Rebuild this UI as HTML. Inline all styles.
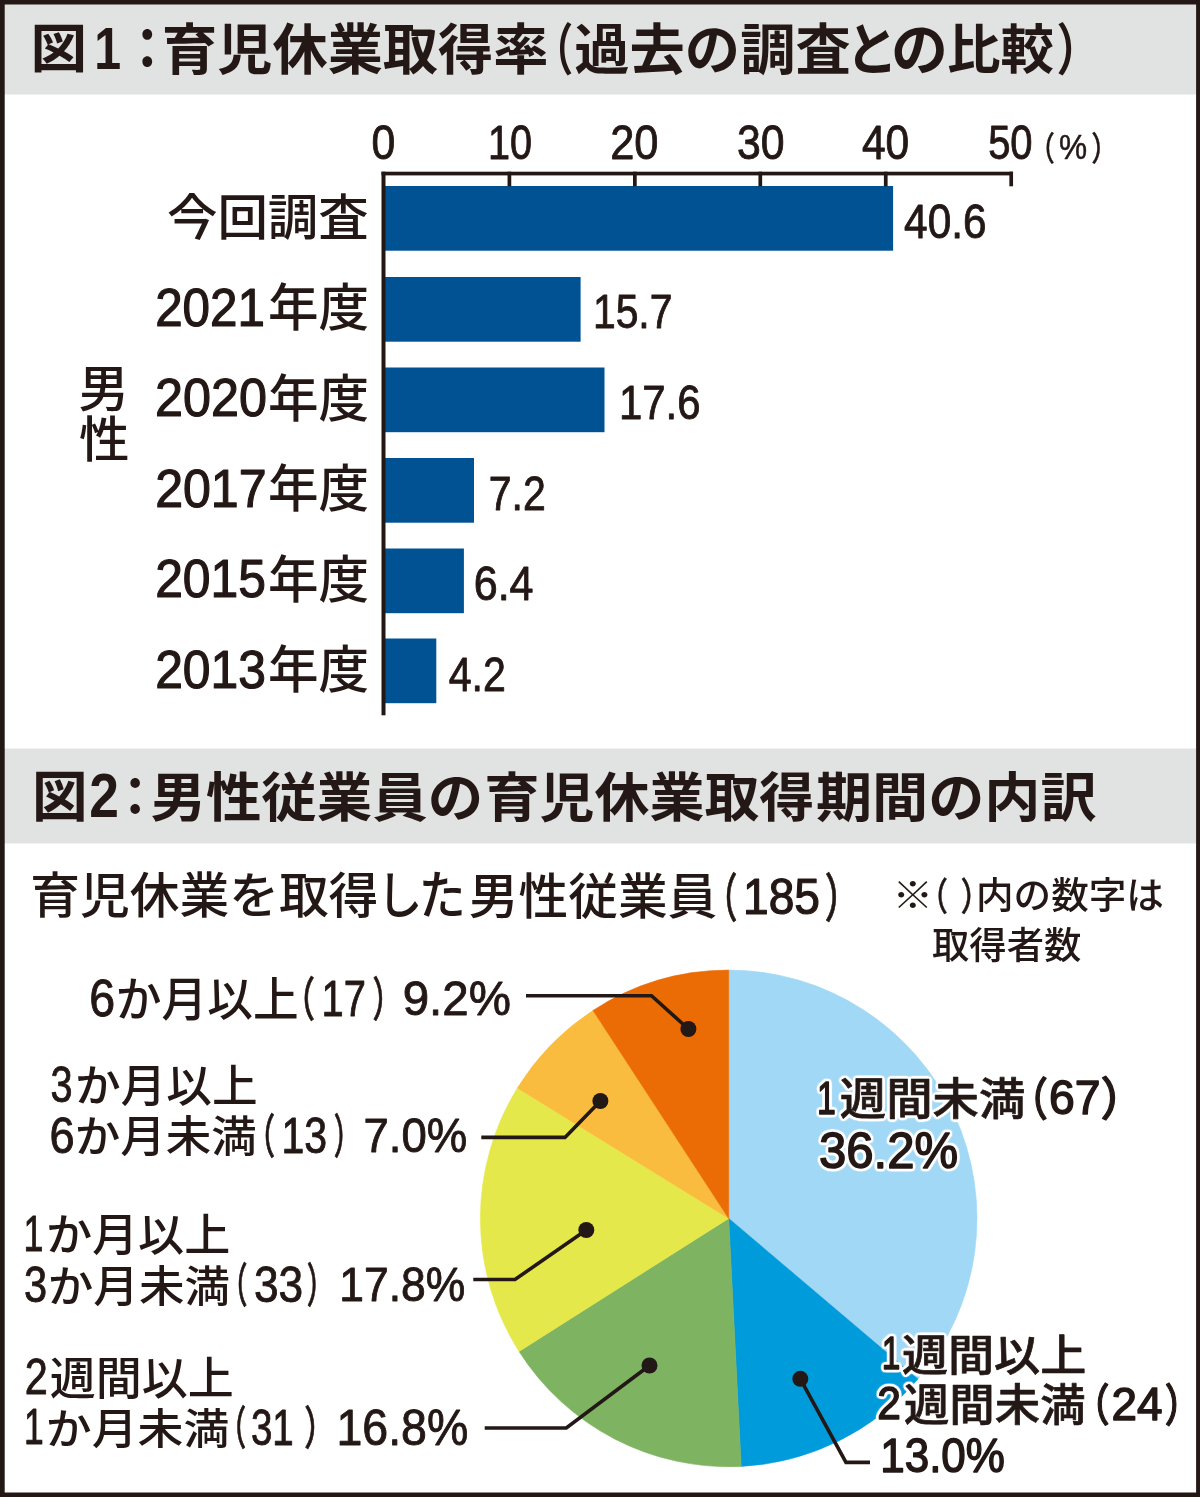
<!DOCTYPE html>
<html lang="ja">
<head>
<meta charset="utf-8">
<title>図1:育児休業取得率 / 図2:男性従業員の育児休業取得期間の内訳</title>
<style>
html,body{margin:0;padding:0;background:#fff;}
body{width:1200px;height:1497px;overflow:hidden;font-family:"Liberation Sans", "Noto Sans CJK JP", sans-serif;}
svg{display:block;}
svg text{font-family:"Liberation Sans", "Noto Sans CJK JP", sans-serif;fill:#231815;stroke-linejoin:round;white-space:pre;}
</style>
</head>
<body>
<svg width="1200" height="1497" viewBox="0 0 1200 1497">
<defs>
<filter id="halo" x="-5%" y="-15%" width="110%" height="130%" color-interpolation-filters="sRGB">
<feGaussianBlur in="SourceAlpha" stdDeviation="1.8" result="b"/>
<feComponentTransfer in="b" result="t"><feFuncA type="linear" slope="20" intercept="0"/></feComponentTransfer>
<feFlood flood-color="#fff" result="w"/>
<feComposite in="w" in2="t" operator="in" result="h"/>
<feMerge><feMergeNode in="h"/><feMergeNode in="SourceGraphic"/></feMerge>
</filter>
</defs>
<rect x="0" y="0" width="1200" height="1497" fill="#fff"/>
<rect x="4" y="4" width="1192" height="90.5" fill="#e1e2e2"/>
<rect x="4" y="748.5" width="1192" height="95" fill="#e1e2e2"/>
<path d="M0 0H1200V1497H0Z M4.7 4.5V1492.5H1196.1V4.5Z" fill="#231815" fill-rule="evenodd"/>
<rect x="385.0" y="186" width="508.1" height="64.7" fill="#005293"/>
<rect x="385.0" y="277" width="195.6" height="64.7" fill="#005293"/>
<rect x="385.0" y="367.5" width="219.5" height="64.7" fill="#005293"/>
<rect x="385.0" y="458" width="89.0" height="64.7" fill="#005293"/>
<rect x="385.0" y="548.5" width="78.9" height="64.7" fill="#005293"/>
<rect x="385.0" y="638.5" width="51.3" height="64.7" fill="#005293"/>
<rect x="381.5" y="171.7" width="4" height="543.6" fill="#231815"/>
<rect x="381.5" y="171.7" width="631.5" height="3.7" fill="#231815"/>
<rect x="507.55" y="171.7" width="3.7" height="14.6" fill="#231815"/>
<rect x="633.00" y="171.7" width="3.7" height="14.6" fill="#231815"/>
<rect x="758.45" y="171.7" width="3.7" height="14.6" fill="#231815"/>
<rect x="883.90" y="171.7" width="3.7" height="14.6" fill="#231815"/>
<rect x="1009.35" y="171.7" width="3.7" height="14.6" fill="#231815"/>
<path d="M728.7 1218.4L728.70 970.10A248.3 248.3 0 0 1 918.01 1379.06Z" fill="#a0d8f6" stroke="#a0d8f6" stroke-width="0.6"/>
<path d="M728.7 1218.4L918.01 1379.06A248.3 248.3 0 0 1 741.18 1466.39Z" fill="#009bdb" stroke="#009bdb" stroke-width="0.6"/>
<path d="M728.7 1218.4L741.18 1466.39A248.3 248.3 0 0 1 519.05 1351.45Z" fill="#7eb461" stroke="#7eb461" stroke-width="0.6"/>
<path d="M728.7 1218.4L519.05 1351.45A248.3 248.3 0 0 1 517.40 1088.00Z" fill="#e5e84a" stroke="#e5e84a" stroke-width="0.6"/>
<path d="M728.7 1218.4L517.40 1088.00A248.3 248.3 0 0 1 593.03 1010.44Z" fill="#fabc3e" stroke="#fabc3e" stroke-width="0.6"/>
<path d="M728.7 1218.4L593.03 1010.44A248.3 248.3 0 0 1 728.70 970.10Z" fill="#eb6b05" stroke="#eb6b05" stroke-width="0.6"/>
<path d="M526 995.7 L651.5 995.7 L688.4 1029" fill="none" stroke="#231815" stroke-width="3.6" stroke-linejoin="miter"/>
<circle cx="688.4" cy="1029" r="8" fill="#231815"/>
<path d="M481.3 1137.4 L565 1137.4 L600.4 1101" fill="none" stroke="#231815" stroke-width="3.6" stroke-linejoin="miter"/>
<circle cx="600.4" cy="1101" r="8" fill="#231815"/>
<path d="M473.3 1279.5 L515 1279.5 L586.3 1230" fill="none" stroke="#231815" stroke-width="3.6" stroke-linejoin="miter"/>
<circle cx="586.3" cy="1230" r="8" fill="#231815"/>
<path d="M484.7 1428 L566.3 1428 L649.5 1365.5" fill="none" stroke="#231815" stroke-width="3.6" stroke-linejoin="miter"/>
<circle cx="649.5" cy="1365.5" r="8" fill="#231815"/>
<path d="M870 1462.4 L846 1462.4 L800.3 1378.8" fill="none" stroke="#231815" stroke-width="3.6" stroke-linejoin="miter"/>
<circle cx="800.3" cy="1378.8" r="8" fill="#231815"/>
<g>
<text font-weight="700"><tspan x="30.59" y="68.35" font-size="53.81" textLength="56.60" lengthAdjust="spacingAndGlyphs">図</tspan><tspan x="94.29" y="68.62" font-size="60.14" textLength="26.88" lengthAdjust="spacingAndGlyphs">1</tspan><tspan x="121.59" y="68.50" font-size="56.73" textLength="51.58" lengthAdjust="spacingAndGlyphs">：</tspan><tspan x="161.97" y="69.00" font-size="54.76" textLength="386.55" lengthAdjust="spacingAndGlyphs">育児休業取得率</tspan><tspan x="533.98" y="69.62" font-size="55.73" textLength="39.18" lengthAdjust="spacingAndGlyphs">（</tspan><tspan x="574.23" y="69.00" font-size="54.76" textLength="276.54" lengthAdjust="spacingAndGlyphs">過去の調査</tspan><tspan x="845.79" y="70.25" font-size="56.48" textLength="52.01" lengthAdjust="spacingAndGlyphs">と</tspan><tspan x="891.00" y="69.50" font-size="56.96" textLength="56.97" lengthAdjust="spacingAndGlyphs">の</tspan><tspan x="947.01" y="69.25" font-size="53.72" textLength="106.94" lengthAdjust="spacingAndGlyphs">比較</tspan><tspan x="1056.41" y="69.62" font-size="55.73" textLength="43.53" lengthAdjust="spacingAndGlyphs">）</tspan></text>
<text font-weight="500"><tspan x="371.41" y="159.00" font-size="47.93" textLength="23.77" lengthAdjust="spacingAndGlyphs" stroke="#231815" stroke-width="0.9">0</tspan></text>
<text font-weight="500"><tspan x="488.02" y="159.00" font-size="47.93" textLength="44.06" lengthAdjust="spacingAndGlyphs" stroke="#231815" stroke-width="0.9">10</tspan></text>
<text font-weight="500"><tspan x="610.19" y="159.00" font-size="47.93" textLength="48.30" lengthAdjust="spacingAndGlyphs" stroke="#231815" stroke-width="0.9">20</tspan></text>
<text font-weight="500"><tspan x="736.91" y="159.00" font-size="47.93" textLength="47.56" lengthAdjust="spacingAndGlyphs" stroke="#231815" stroke-width="0.9">30</tspan></text>
<text font-weight="500"><tspan x="861.91" y="159.00" font-size="47.93" textLength="47.25" lengthAdjust="spacingAndGlyphs" stroke="#231815" stroke-width="0.9">40</tspan></text>
<text font-weight="500"><tspan x="988.13" y="159.00" font-size="47.93" textLength="44.46" lengthAdjust="spacingAndGlyphs" stroke="#231815" stroke-width="0.9">50</tspan></text>
<text font-weight="500"><tspan x="1029.36" y="159.90" font-size="33.26" textLength="25.61" lengthAdjust="spacingAndGlyphs" stroke="#231815" stroke-width="0.4">（</tspan><tspan x="1059.10" y="159.00" font-size="35.27" textLength="28.12" lengthAdjust="spacingAndGlyphs" stroke="#231815" stroke-width="0.5">%</tspan><tspan x="1091.20" y="159.90" font-size="33.26" textLength="26.61" lengthAdjust="spacingAndGlyphs" stroke="#231815" stroke-width="0.4">）</tspan></text>
<text font-weight="500"><tspan x="166.95" y="234.70" font-size="49.19" textLength="201.85" lengthAdjust="spacingAndGlyphs">今回調査</tspan></text>
<text font-weight="500"><tspan x="155.16" y="325.75" font-size="53.53" textLength="109.74" lengthAdjust="spacingAndGlyphs" stroke="#231815" stroke-width="1.2">2021</tspan><tspan x="268.02" y="326.00" font-size="51.06" textLength="101.05" lengthAdjust="spacingAndGlyphs">年度</tspan></text>
<text font-weight="500"><tspan x="155.12" y="416.25" font-size="53.53" textLength="111.82" lengthAdjust="spacingAndGlyphs" stroke="#231815" stroke-width="1.2">2020</tspan><tspan x="268.02" y="416.50" font-size="51.06" textLength="101.05" lengthAdjust="spacingAndGlyphs">年度</tspan></text>
<text font-weight="500"><tspan x="155.13" y="506.75" font-size="53.53" textLength="111.50" lengthAdjust="spacingAndGlyphs" stroke="#231815" stroke-width="1.2">2017</tspan><tspan x="268.02" y="507.00" font-size="51.06" textLength="101.05" lengthAdjust="spacingAndGlyphs">年度</tspan></text>
<text font-weight="500"><tspan x="155.14" y="597.25" font-size="53.53" textLength="110.78" lengthAdjust="spacingAndGlyphs" stroke="#231815" stroke-width="1.2">2015</tspan><tspan x="268.02" y="597.50" font-size="51.06" textLength="101.05" lengthAdjust="spacingAndGlyphs">年度</tspan></text>
<text font-weight="500"><tspan x="155.14" y="687.75" font-size="53.53" textLength="110.78" lengthAdjust="spacingAndGlyphs" stroke="#231815" stroke-width="1.2">2013</tspan><tspan x="268.02" y="688.00" font-size="51.06" textLength="101.05" lengthAdjust="spacingAndGlyphs">年度</tspan></text>
<text font-weight="500"><tspan x="78.50" y="407.25" font-size="50.57" textLength="50.56" lengthAdjust="spacingAndGlyphs">男</tspan><tspan x="78.96" y="456.75" font-size="48.44" textLength="50.61" lengthAdjust="spacingAndGlyphs">性</tspan></text>
<text font-weight="500"><tspan x="904.12" y="237.50" font-size="47.93" textLength="82.40" lengthAdjust="spacingAndGlyphs" stroke="#231815" stroke-width="0.9">40.6</tspan></text>
<text font-weight="500"><tspan x="592.94" y="328.00" font-size="47.93" textLength="79.50" lengthAdjust="spacingAndGlyphs" stroke="#231815" stroke-width="0.9">15.7</tspan></text>
<text font-weight="500"><tspan x="618.88" y="419.00" font-size="47.93" textLength="81.62" lengthAdjust="spacingAndGlyphs" stroke="#231815" stroke-width="0.9">17.6</tspan></text>
<text font-weight="500"><tspan x="488.81" y="509.50" font-size="48.61" textLength="57.02" lengthAdjust="spacingAndGlyphs" stroke="#231815" stroke-width="0.9">7.2</tspan></text>
<text font-weight="500"><tspan x="473.70" y="600.00" font-size="47.93" textLength="59.86" lengthAdjust="spacingAndGlyphs" stroke="#231815" stroke-width="0.9">6.4</tspan></text>
<text font-weight="500"><tspan x="448.65" y="690.50" font-size="48.61" textLength="57.18" lengthAdjust="spacingAndGlyphs" stroke="#231815" stroke-width="0.9">4.2</tspan></text>
<text font-weight="700"><tspan x="31.93" y="816.25" font-size="54.69" textLength="55.62" lengthAdjust="spacingAndGlyphs">図</tspan><tspan x="89.28" y="817.35" font-size="62.02" textLength="29.67" lengthAdjust="spacingAndGlyphs">2</tspan><tspan x="110.05" y="815.88" font-size="52.99" textLength="50.35" lengthAdjust="spacingAndGlyphs">：</tspan><tspan x="150.44" y="817.25" font-size="53.72" textLength="332.78" lengthAdjust="spacingAndGlyphs">男性従業員の</tspan><tspan x="484.43" y="817.25" font-size="53.72" textLength="329.95" lengthAdjust="spacingAndGlyphs">育児休業取得</tspan><tspan x="815.91" y="817.25" font-size="53.72" textLength="280.77" lengthAdjust="spacingAndGlyphs">期間の内訳</tspan></text>
<text font-weight="500"><tspan x="30.28" y="912.90" font-size="49.37" textLength="348.06" lengthAdjust="spacingAndGlyphs">育児休業を取得</tspan><tspan x="376.91" y="913.50" font-size="51.53" textLength="45.45" lengthAdjust="spacingAndGlyphs">し</tspan><tspan x="418.83" y="913.75" font-size="52.62" textLength="47.00" lengthAdjust="spacingAndGlyphs">た</tspan><tspan x="468.77" y="913.50" font-size="48.96" textLength="248.52" lengthAdjust="spacingAndGlyphs">男性従業員</tspan><tspan x="704.67" y="917.00" font-size="52.08" textLength="32.64" lengthAdjust="spacingAndGlyphs" stroke="#231815" stroke-width="0.8">（</tspan><tspan x="743.07" y="913.50" font-size="50.7" textLength="76.97" lengthAdjust="spacingAndGlyphs" stroke="#231815" stroke-width="1.2">185</tspan><tspan x="824.67" y="917.00" font-size="52.08" textLength="34.72" lengthAdjust="spacingAndGlyphs" stroke="#231815" stroke-width="0.8">）</tspan></text>
<text font-weight="500"><tspan x="892.56" y="909.30" font-size="37.34" textLength="40.66" lengthAdjust="spacingAndGlyphs">※</tspan><tspan x="919.04" y="909.90" font-size="38.12" textLength="28.96" lengthAdjust="spacingAndGlyphs" stroke="#231815" stroke-width="0.5">（</tspan> <tspan x="960.40" y="909.90" font-size="38.12" textLength="30.49" lengthAdjust="spacingAndGlyphs" stroke="#231815" stroke-width="0.5">）</tspan><tspan x="975.97" y="909.00" font-size="37.23" textLength="187.96" lengthAdjust="spacingAndGlyphs">内の数字は</tspan></text>
<text font-weight="500"><tspan x="932.00" y="959.00" font-size="37.23" textLength="149.40" lengthAdjust="spacingAndGlyphs">取得者数</tspan></text>
<text font-weight="500"><tspan x="89.18" y="1016.25" font-size="50.99" textLength="25.86" lengthAdjust="spacingAndGlyphs" stroke="#231815" stroke-width="0.9">6</tspan><tspan x="115.83" y="1016.40" font-size="46.09" textLength="182.78" lengthAdjust="spacingAndGlyphs">か月以上</tspan><tspan x="283.34" y="1016.25" font-size="46.88" textLength="31.73" lengthAdjust="spacingAndGlyphs" stroke="#231815" stroke-width="0.8">（</tspan><tspan x="321.45" y="1015.90" font-size="50.86" textLength="44.38" lengthAdjust="spacingAndGlyphs" stroke="#231815" stroke-width="0.9">17</tspan><tspan x="372.54" y="1016.25" font-size="46.88" textLength="29.57" lengthAdjust="spacingAndGlyphs" stroke="#231815" stroke-width="0.8">）</tspan> <tspan x="402.66" y="1015.35" font-size="48.84" textLength="108.21" lengthAdjust="spacingAndGlyphs" stroke="#231815" stroke-width="0.9">9.2%</tspan></text>
<text font-weight="500"><tspan x="50.39" y="1102.25" font-size="49.31" textLength="22.05" lengthAdjust="spacingAndGlyphs" stroke="#231815" stroke-width="0.9">3</tspan><tspan x="74.94" y="1102.25" font-size="44.78" textLength="182.68" lengthAdjust="spacingAndGlyphs">か月以上</tspan> <tspan x="49.47" y="1153.25" font-size="49.31" textLength="25.14" lengthAdjust="spacingAndGlyphs" stroke="#231815" stroke-width="0.9">6</tspan><tspan x="74.84" y="1152.40" font-size="43.19" textLength="182.02" lengthAdjust="spacingAndGlyphs">か月未満</tspan><tspan x="246.31" y="1152.50" font-size="46.88" textLength="28.85" lengthAdjust="spacingAndGlyphs" stroke="#231815" stroke-width="0.8">（</tspan><tspan x="281.50" y="1153.25" font-size="49.31" textLength="45.63" lengthAdjust="spacingAndGlyphs" stroke="#231815" stroke-width="0.9">13</tspan><tspan x="333.86" y="1152.50" font-size="46.88" textLength="26.68" lengthAdjust="spacingAndGlyphs" stroke="#231815" stroke-width="0.8">）</tspan> <tspan x="363.44" y="1152.15" font-size="48.84" textLength="103.77" lengthAdjust="spacingAndGlyphs" stroke="#231815" stroke-width="0.9">7.0%</tspan></text>
<text font-weight="500"><tspan x="23.56" y="1251.15" font-size="49.86" textLength="19.97" lengthAdjust="spacingAndGlyphs" stroke="#231815" stroke-width="0.9">1</tspan><tspan x="45.90" y="1251.30" font-size="44.57" textLength="184.45" lengthAdjust="spacingAndGlyphs">か月以上</tspan> <tspan x="24.03" y="1302.15" font-size="49.86" textLength="23.11" lengthAdjust="spacingAndGlyphs" stroke="#231815" stroke-width="0.9">3</tspan><tspan x="47.82" y="1301.85" font-size="42.98" textLength="182.17" lengthAdjust="spacingAndGlyphs">か月未満</tspan><tspan x="220.78" y="1302.00" font-size="46.88" textLength="26.68" lengthAdjust="spacingAndGlyphs" stroke="#231815" stroke-width="0.8">（</tspan><tspan x="254.03" y="1302.15" font-size="49.86" textLength="49.18" lengthAdjust="spacingAndGlyphs" stroke="#231815" stroke-width="0.9">33</tspan><tspan x="306.65" y="1302.00" font-size="46.88" textLength="27.04" lengthAdjust="spacingAndGlyphs" stroke="#231815" stroke-width="0.8">）</tspan> <tspan x="339.27" y="1301.15" font-size="48.84" textLength="126.05" lengthAdjust="spacingAndGlyphs" stroke="#231815" stroke-width="0.9">17.8%</tspan></text>
<text font-weight="500"><tspan x="24.63" y="1394.00" font-size="49.73" textLength="23.05" lengthAdjust="spacingAndGlyphs" stroke="#231815" stroke-width="0.9">2</tspan><tspan x="49.66" y="1394.65" font-size="45.22" textLength="184.25" lengthAdjust="spacingAndGlyphs">週間以上</tspan> <tspan x="23.92" y="1444.25" font-size="49.29" textLength="19.74" lengthAdjust="spacingAndGlyphs" stroke="#231815" stroke-width="0.9">1</tspan><tspan x="45.77" y="1444.25" font-size="42.56" textLength="183.53" lengthAdjust="spacingAndGlyphs">か月未満</tspan><tspan x="218.94" y="1444.75" font-size="45.84" textLength="27.14" lengthAdjust="spacingAndGlyphs" stroke="#231815" stroke-width="0.8">（</tspan><tspan x="250.93" y="1444.70" font-size="49.03" textLength="42.88" lengthAdjust="spacingAndGlyphs" stroke="#231815" stroke-width="0.9">31</tspan><tspan x="304.26" y="1444.75" font-size="45.84" textLength="30.67" lengthAdjust="spacingAndGlyphs" stroke="#231815" stroke-width="0.8">）</tspan> <tspan x="336.48" y="1444.75" font-size="49.38" textLength="131.78" lengthAdjust="spacingAndGlyphs" stroke="#231815" stroke-width="0.9">16.8%</tspan></text>
<text font-weight="500" filter="url(#halo)"><tspan x="817.02" y="1113.90" font-size="47.07" textLength="18.86" lengthAdjust="spacingAndGlyphs" stroke="#231815" stroke-width="1.5">1</tspan><tspan x="839.75" y="1115.15" font-size="44.27" textLength="185.56" lengthAdjust="spacingAndGlyphs" stroke="#231815" stroke-width="0.7">週間未満</tspan><tspan x="1009.93" y="1115.80" font-size="45.38" textLength="37.93" lengthAdjust="spacingAndGlyphs" stroke="#231815" stroke-width="1.3">（</tspan><tspan x="1048.90" y="1114.15" font-size="48.77" textLength="51.54" lengthAdjust="spacingAndGlyphs" stroke="#231815" stroke-width="1.5">67</tspan><tspan x="1100.58" y="1114.80" font-size="45.86" textLength="44.10" lengthAdjust="spacingAndGlyphs" stroke="#231815" stroke-width="1.3">）</tspan> <tspan x="819.03" y="1167.95" font-size="50.69" textLength="139.18" lengthAdjust="spacingAndGlyphs" stroke="#231815" stroke-width="1.5">36.2%</tspan></text>
<text font-weight="500" filter="url(#halo)"><tspan x="881.78" y="1369.00" font-size="46.52" textLength="18.63" lengthAdjust="spacingAndGlyphs" stroke="#231815" stroke-width="1.5">1</tspan><tspan x="901.93" y="1371.00" font-size="43.04" textLength="184.35" lengthAdjust="spacingAndGlyphs" stroke="#231815" stroke-width="0.7">週間以上</tspan> <tspan x="877.18" y="1418.65" font-size="46.78" textLength="23.65" lengthAdjust="spacingAndGlyphs" stroke="#231815" stroke-width="1.5">2</tspan><tspan x="903.97" y="1421.15" font-size="44.27" textLength="181.62" lengthAdjust="spacingAndGlyphs" stroke="#231815" stroke-width="0.7">週間未満</tspan><tspan x="1073.77" y="1420.50" font-size="44.35" textLength="35.82" lengthAdjust="spacingAndGlyphs" stroke="#231815" stroke-width="1.3">（</tspan><tspan x="1111.54" y="1420.35" font-size="46.78" textLength="50.97" lengthAdjust="spacingAndGlyphs" stroke="#231815" stroke-width="1.5">24</tspan><tspan x="1164.71" y="1421.00" font-size="44.81" textLength="35.21" lengthAdjust="spacingAndGlyphs" stroke="#231815" stroke-width="1.3">）</tspan> <tspan x="880.25" y="1472.00" font-size="47.95" textLength="124.61" lengthAdjust="spacingAndGlyphs" stroke="#231815" stroke-width="1.5">13.0%</tspan></text>
</g>
</svg>
</body>
</html>
